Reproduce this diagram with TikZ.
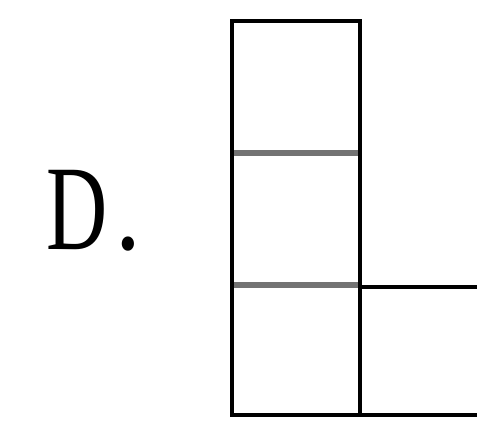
\documentclass[tikz,border=0pt]{standalone}
\usepackage{fontspec}
\setmainfont{Liberation Serif}
\begin{document}
\begin{tikzpicture}[x=1pt,y=-1pt,
  edge/.style={line width=4pt,black,line cap=rect},
  inner/.style={line width=6pt,black!55}]
\useasboundingbox[fill=white] (0,0) rectangle (477,430);
\node[anchor=base west,inner sep=0pt,font=\fontsize{121}{121}\selectfont] (lbl) at (46,250) {\scalebox{0.7}[1]{D}\hspace{8pt}\scalebox{0.85}[1]{.}};
\coordinate (a) at (232,21);
\coordinate (b) at (360,21);
\coordinate (c) at (360,415);
\coordinate (d) at (232,415);
\draw[inner] (232,153) -- (360,153);
\draw[inner] (232,285) -- (360,285);
\draw[edge] (a) -- (b) -- (c) -- (d) -- cycle;
\draw[edge,line cap=butt] (360,287.5) -- (478,287.5);
\draw[edge,line cap=butt] (360,415) -- (478,415);
\end{tikzpicture}
\end{document}
